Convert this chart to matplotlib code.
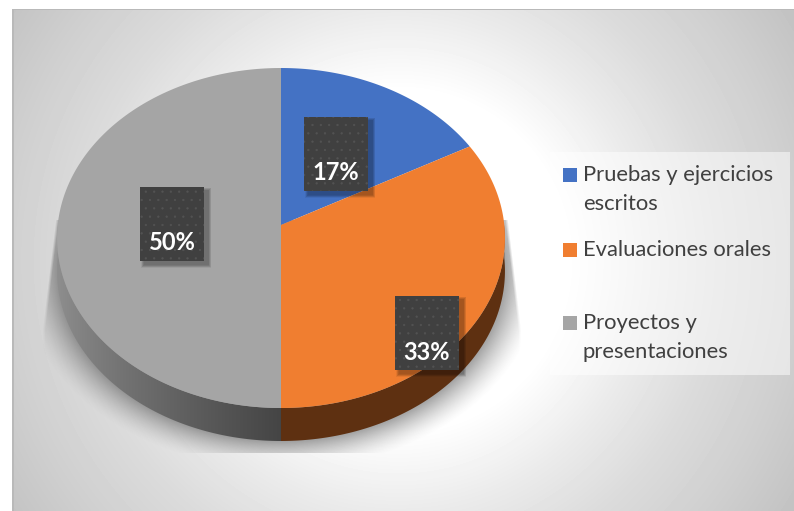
#!/usr/bin/env python3
"""Pie chart in perspective with side wall, gradient panel and boxed percent labels."""
import matplotlib
matplotlib.use("Agg")
import matplotlib.pyplot as plt
from matplotlib.patches import Polygon, Rectangle
import numpy as np

W, H = 794, 511

labels = ["Pruebas y ejercicios\nescritos", "Evaluaciones orales", "Proyectos y\npresentaciones"]
values = [17, 33, 50]
colors = ["#4472C4", "#F07E30", "#A5A5A5"]

plt.rcParams["font.family"] = ["Lato", "DejaVu Sans"]
plt.rcParams["hatch.linewidth"] = 0.4

# pie footprint in pixels: apex, tilt and wall height
CX, CY = 281, 225
SX, SY, TILT = 223.3, 169.0, 0.0765
DEPTH = 33


def project(ang):
    """clockwise angle from 12 o'clock (deg) -> pixel position on the tilted disc"""
    a = np.radians(ang)
    w = 1 + TILT * np.cos(a)
    return CX + SX * np.sin(a) / w, CY - SY * np.cos(a) / w


fig = plt.figure(figsize=(W / 100, H / 100), dpi=100)
ax = fig.add_axes([0, 0, 1, 1])

# panel background
yy, xx = np.mgrid[9:H, 12:W]
r = np.hypot(xx - 398, yy - 260)
g = np.interp(r, [0, 170, 250, 320, 400, 470], [1, 1, 0.92, 0.86, 0.81, 0.76])
ax.imshow(g, extent=(12, W, H, 9), cmap="gray", vmin=0, vmax=1, aspect="auto", zorder=0)
ax.add_patch(Rectangle((12, 9), W - 12, 1.5, color="#b9b9b9", lw=0, zorder=1))
ax.add_patch(Rectangle((12, 9), 1.5, H - 9, color="#b9b9b9", lw=0, zorder=1))

# soft shadow under the pie: blurred disc cut by a slanted trapezoid
yy, xx = np.mgrid[220:453, 42:521]
rs = np.hypot((xx - CX) / 224, (yy - 271) / 170)
edge = np.maximum(0, 330 - yy) * 0.12
mask = np.clip((xx - 42 - edge) / 3, 0, 1) * np.clip((521 - edge - xx) / 3, 0, 1)
a = np.clip((1.17 - rs) / 0.17, 0, 1) ** 1.5 * 0.5 * mask
rgba = np.zeros(a.shape + (4,))
rgba[..., :3] = 0.3
rgba[..., 3] = a
ax.imshow(rgba, extent=(42, 521, 453, 220), aspect="auto", zorder=2)

# side wall, clipped out of a horizontal gradient
th = np.linspace(90, 270, 300)
ex, ey = project(th)
wall = Polygon(np.r_[np.c_[ex, ey], np.c_[ex[::-1], ey[::-1] + DEPTH]], fc="none", lw=0, zorder=3)
ax.add_patch(wall)
t = np.linspace(-1, 1, 448)
grad = np.zeros((1, 448, 3))
left = t < 0
mix = (t[left] + 1)[:, None] ** 0.8
grad[0, left] = 0.56 * (1 - mix) + 0.27 * mix
grad[0, ~left] = [0.37, 0.19, 0.07]
im = ax.imshow(grad, extent=(57, 505, 445, 220), aspect="auto", zorder=3)
im.set_clip_path(wall)

# slices
start = 0.0
for v, col in zip(values, colors):
    sweep = 360.0 * v / sum(values)
    px, py = project(np.linspace(start, start + sweep, 200))
    ax.add_patch(Polygon(np.r_[[[CX, CY]], np.c_[px, py]], fc=col, lw=0, zorder=4))
    start += sweep

# percent labels
boxes = [(304, 117), (395, 296), (140, 187)]
for (bx, by), v in zip(boxes, values):
    for i in range(1, 7):
        ax.add_patch(Rectangle((bx + 4 - i / 2, by + 4 - i / 2), 64 + i, 74 + i,
                               fc="black", lw=0, alpha=0.06, zorder=5))
    ax.add_patch(Rectangle((bx, by), 64, 74, fc="#404040", ec="#535353", hatch="..", lw=0, zorder=6))
    ax.text(bx + 32, by + 56, f"{v}%", color="white", fontsize=17, fontweight="bold",
            ha="center", va="center", zorder=7)

# legend
ax.add_patch(Rectangle((550, 152), 240, 223, fc="white", lw=0, alpha=0.5, zorder=5))
swatch_y = [175, 250, 323]
for lab, col, sy in zip(labels, colors, swatch_y):
    ax.add_patch(Rectangle((563, sy - 7), 14, 14, fc=col, lw=0, zorder=6))
    for n, part in enumerate(lab.split("\n")):
        ax.text(583, sy + n * 29, part, color="#404040", fontsize=15.8,
                ha="left", va="center", zorder=7)

ax.set_xlim(0, W)
ax.set_ylim(H, 0)
ax.axis("off")

fig.savefig("out.png", dpi=100)
plt.close(fig)
